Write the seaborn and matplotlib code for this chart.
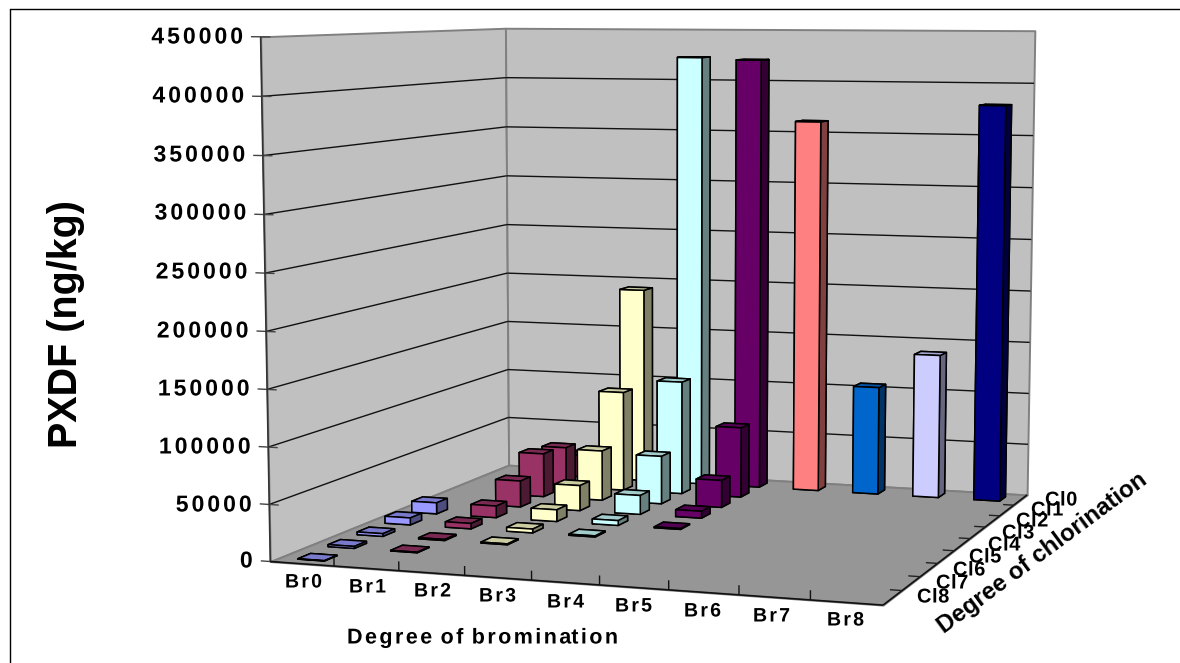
import numpy as np
import matplotlib
matplotlib.use("Agg")
import matplotlib.pyplot as plt
from matplotlib.lines import Line2D
from matplotlib.path import Path
from matplotlib.patheffects import AbstractPathEffect
from mpl_toolkits.mplot3d.art3d import Poly3DCollection, Line3DCollection
import seaborn as sns

# ---------- data (ng/kg), each list runs Cl0 ... Cl8 ----------
BR_LABELS = ["Br0", "Br1", "Br2", "Br3", "Br4", "Br5", "Br6", "Br7", "Br8"]
CL_LABELS = ["Cl0", "Cl1", "Cl2", "Cl3", "Cl4", "Cl5", "Cl6", "Cl7", "Cl8"]
br0 = [0, 0, 0, 0, 10500, 6500, 2500, 1800, 300]
br1 = [22000, 39000, 42000, 25000, 11000, 5000, 1000, 500, 0]
br2 = [192000, 97000, 48000, 24000, 11000, 3500, 800, 0, 0]
br3 = [423000, 110000, 46000, 18000, 4500, 1000, 0, 0, 0]
br4 = [421000, 68000, 26000, 6500, 800, 0, 0, 0, 0]
br5 = [362000, 0, 0, 0, 0, 0, 0, 0, 0]
br6 = [105000, 0, 0, 0, 0, 0, 0, 0, 0]
br7 = [139000, 0, 0, 0, 0, 0, 0, 0, 0]
br8 = [380000, 0, 0, 0, 0, 0, 0, 0, 0]
VALUES = [br0, br1, br2, br3, br4, br5, br6, br7, br8]
BR_COLORS = ["#9999FF", "#993366", "#FFFFCC", "#CCFFFF", "#660066",
             "#FF8080", "#0066CC", "#CCCCFF", "#000080"]
Z_TICKS = [0, 50000, 100000, 150000, 200000, 250000, 300000, 350000, 400000, 450000]
Z_MAX = 450000
N = 9

W_PX, H_PX = 1180, 663
sns.set_theme(style="white")
FONT = "Liberation Sans"
plt.rcParams["font.family"] = [FONT, "DejaVu Sans"]
palette = sns.color_palette(BR_COLORS)


class LetterSpace(AbstractPathEffect):
    """Open up the gaps between glyphs, as in the wide-set labels of the original."""
    def __init__(self, spacing):
        super().__init__()
        self.spacing = spacing * 100  # text paths use 100 units per em

    def draw_path(self, renderer, gc, tpath, affine, rgbFace=None):
        verts = np.array(tpath.vertices, float)
        codes = tpath.codes
        starts = list(np.where(codes == Path.MOVETO)[0]) + [len(codes)]
        parts = [(verts[a:b, 0].min(), verts[a:b, 0].max(), a, b)
                 for a, b in zip(starts[:-1], starts[1:])]
        parts.sort()
        glyph, reach = -1, -np.inf
        for lo, hi, a, b in parts:
            if lo >= reach:
                glyph += 1
            reach = max(reach, hi)
            verts[a:b, 0] += glyph * self.spacing
        renderer.draw_path(gc, Path(verts, codes), affine, rgbFace)


# ---------- camera: fit a projective matrix to the box corners seen in the picture ----------
corners = [((0, 0, 0), (270, 561.7)), ((0, 0, 1), (261, 36.7)),
           ((0, 9, 0), (509, 465)), ((0, 9, 1), (505, 28.3)),
           ((9, 9, 0), (1027, 495)), ((9, 9, 1), (1035, 30.7)),
           ((9, 0, 0), (883, 605))]
rows = []
for (X, Y, Z), (u, v) in corners:
    rows.append([X, Y, Z, 1, 0, 0, 0, 0, -u * X, -u * Y, -u * Z, -u])
    rows.append([0, 0, 0, 0, X, Y, Z, 1, -v * X, -v * Y, -v * Z, -v])
P = np.linalg.svd(np.array(rows, float))[2][-1].reshape(3, 4)
P[:, 2] /= Z_MAX
P /= P[2] @ np.array([4.5, 4.5, 0, 1])

fig = plt.figure(figsize=(W_PX / 100, H_PX / 100), dpi=100, facecolor="white")
ax = fig.add_axes([0, 0, 1, 1], projection="3d", computed_zorder=False)
ax.set_axis_off()
ax.patch.set_visible(False)
ax.apply_aspect = lambda position=None: None


def camera():
    (x0, x1), (y0, y1) = ax.viewLim.intervalx, ax.viewLim.intervaly
    row_x = (x1 - x0) / W_PX * P[0] + x0 * P[2]
    row_y = -(y1 - y0) / H_PX * P[1] + y1 * P[2]
    row_d = P[2] - np.array([0, 0, 0, 1.0])
    return np.array([row_x, row_y, row_d, P[2]])


ax.get_proj = camera


def plane(verts, face, z):
    ax.add_collection3d(Poly3DCollection([verts], facecolors=face, edgecolors="#808080",
                                         linewidths=1.4, zorder=z))


def lines(segments, color, width):
    ax.add_collection3d(Line3DCollection(segments, colors=color, linewidths=width, zorder=5))


plane([(0, 0, 0), (0, 9, 0), (0, 9, Z_MAX), (0, 0, Z_MAX)], "#C0C0C0", 1)
plane([(0, 9, 0), (9, 9, 0), (9, 9, Z_MAX), (0, 9, Z_MAX)], "#C0C0C0", 1)
plane([(0, 0, 0), (9, 0, 0), (9, 9, 0), (0, 9, 0)], "#969696", 2)

lines([[(0, 0, t), (0, 9, t)] for t in Z_TICKS[1:-1]], "#111111", 1.0)
lines([[(0, 9, t), (9, 9, t)] for t in Z_TICKS[1:-1]], "#111111", 1.0)
lines([[(-0.15, 0, t), (0.15, 0, t)] for t in Z_TICKS], "#444444", 1.0)
lines([[(0, 0, 0), (0, 0, Z_MAX)]], "#333333", 1.2)
lines([[(0, 0, 0), (9, 0, 0)], [(9, 0, 0), (9, 9, 0)]], "#111111", 1.2)
lines([[(k, 0, 0), (k, 0, 8000)] for k in range(1, N)], "#111111", 1.0)
lines([[(9, k, 0), (8.83, k, 0)] for k in range(1, N)], "#222222", 1.0)

# ---------- bars ----------
BAR = 0.42
for i, series in enumerate(VALUES):
    base = np.array(palette[i])
    for c, value in enumerate(series):
        if value <= 0:
            continue
        yc = N - 1 - c + 0.5
        xc = i + 0.5
        depth = P[2] @ np.array([xc, yc, 0, 1])
        faces = [base * 0.5, base * 0.8, base, base * 0.5, base * 0.5, base * 0.5]
        ax.bar3d(xc - BAR / 2, yc - BAR / 2, 0, BAR, BAR, value, color=faces, shade=False,
                 edgecolor="black", linewidth=1.1, zorder=10 + (2 - depth) * 1000)


# ---------- text ----------
def label(x, y, text, em, sp=0.0, rot=0, ha="left"):
    fig.text(x / W_PX, 1 - y / H_PX, text, fontsize=em * 0.72, fontweight="bold",
             color="black", ha=ha, va="center", rotation=rot, rotation_mode="anchor",
             path_effects=[LetterSpace(sp)] if sp else None, zorder=50)


EM_T = 23
SP_T = 0.13
tick_y = [561, 505, 447, 389, 331, 272, 213, 155, 96, 37]
for t, y in zip(Z_TICKS, tick_y):
    text = str(t)
    right = 252.7 - (561 - y) * 9.7 / 525
    label(right - (len(text) * 0.556 + (len(text) - 1) * SP_T) * EM_T, y, text, EM_T, SP_T)

br_x = [285, 349, 414, 479, 547, 615, 684, 753, 827]
br_y = [583, 588, 592, 597, 603, 607, 612, 617, 621]
for t, x, y in zip(BR_LABELS, br_x, br_y):
    label(x, y, t, 19.5, 0.115)

cl_x = [1045, 1031, 1016, 1002, 988, 969, 953, 936, 917]
cl_y = [500, 510, 521, 533, 545, 557, 570, 583, 597]
for t, x, y in zip(CL_LABELS, cl_x, cl_y):
    label(x, y, t, 20, 0.03)

label(347, 638, "Degree of bromination", 21.5, 0.114)
label(1042, 553, "Degree of chlorination", 24, rot=36.5, ha="center")
label(66, 323.5, "PXDF (ng/kg)", 39.5, rot=90, ha="center")

# ---------- outer frame ----------
fig.add_artist(Line2D([9.5 / W_PX, 9.5 / W_PX], [0, 1 - 9 / H_PX], color="black", lw=1.0))
fig.add_artist(Line2D([9.5 / W_PX, 1], [1 - 9 / H_PX, 1 - 9 / H_PX], color="black", lw=1.0))

fig.savefig("out.png", dpi=100, facecolor="white")
